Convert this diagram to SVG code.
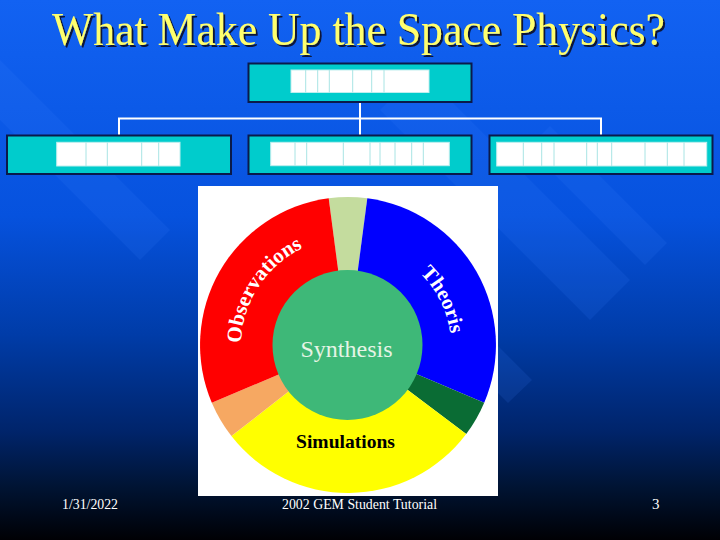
<svg xmlns="http://www.w3.org/2000/svg" width="720" height="540" viewBox="0 0 720 540">
  <defs>
    <linearGradient id="bg" x1="0" y1="0" x2="0" y2="1">
      <stop offset="0" stop-color="#1262f2"/>
      <stop offset="0.4" stop-color="#0652de"/>
      <stop offset="0.62" stop-color="#003ca8"/>
      <stop offset="0.8" stop-color="#00246a"/>
      <stop offset="0.9" stop-color="#001434"/>
      <stop offset="1" stop-color="#000004"/>
    </linearGradient>
    <filter id="shadow" x="-10%" y="-50%" width="120%" height="200%">
      <feDropShadow dx="2" dy="2" stdDeviation="0.4" flood-color="#101838" flood-opacity="1"/>
    </filter>
    <path id="arcObs" d="M241.8,358 A108,108 0 0 1 316.7,242.7"/>
    <path id="arcThe" d="M388,252 A104,104 0 0 1 448.5,371.9"/>
  </defs>
  <style>
    text { font-family: "Liberation Serif", "Times New Roman", "DejaVu Serif", serif; }
    .ttl { font-size: 46px; fill: #ffff6e; }
    .syn { font-size: 24px; fill: #e6f4e6; }
    .sim { font-size: 19px; font-weight: bold; fill: #000000; }
    .box { fill: #00cccc; stroke: #0a1a4a; stroke-width: 2; }
    .cell { fill: #ffffff; stroke: #bfeeee; stroke-width: 1; }
    .div { stroke: #a8e4e4; stroke-width: 1; }
    .conn { stroke: #ffffff; stroke-width: 2; fill: none; }
    .band { fill: #3a86ff; opacity: 0.13; }
    .foot { font-size: 15px; fill: #ffffff; }
    .arcLabel { font-size: 21px; font-weight: bold; fill: #ffffff; }
  </style>

  <rect x="0" y="0" width="720" height="540" fill="url(#bg)"/>
  <!-- diagonal background bands -->
  <polygon class="band" points="420,70 630,280 590,320 380,110"/>
  <polygon class="band" points="550,126 667,243 645,265 528,148"/>
  <polygon class="band" points="460,308 532,380 508,403 440,335"/>
  <polygon class="band" points="0,60 170,230 140,260 0,120"/>

  <!-- title -->
  <g id="title">
    <text class="ttl" x="52" y="45" textLength="613" lengthAdjust="spacingAndGlyphs" filter="url(#shadow)">What Make Up the Space Physics?</text>
  </g>

  <!-- connectors -->
  <g id="connectors">
    <path class="conn" d="M360,103 V135 M119,135 V118.5 H601 V135"/>
  </g>

  <g id="node-top">
    <rect class="box" x="248.5" y="63.5" width="223" height="38.5"/>
    <rect class="cell" x="291" y="70" width="138" height="22.5"/>
    <path class="div" d="M305.7,70 V92.5 M317.7,70 V92.5 M329.3,70 V92.5 M352.7,70 V92.5 M371.7,70 V92.5 M384,70 V92.5"/>
  </g>

  <g id="node-left">
    <rect class="box" x="7" y="135.5" width="224" height="38.5"/>
    <rect class="cell" x="56.7" y="142.3" width="123.3" height="23.7"/>
    <path class="div" d="M86,142.3 V166 M107.3,142.3 V166 M141.7,142.3 V166 M158.7,142.3 V166"/>
  </g>

  <g id="node-middle">
    <rect class="box" x="248.5" y="135.5" width="223" height="38.5"/>
    <rect class="cell" x="270.7" y="142.3" width="178.6" height="23.4"/>
    <path class="div" d="M295,142.3 V165.7 M306.7,142.3 V165.7 M343.3,142.3 V165.7 M370,142.3 V165.7 M380,142.3 V165.7 M395,142.3 V165.7 M411.7,142.3 V165.7 M423.3,142.3 V165.7"/>
  </g>

  <g id="node-right">
    <rect class="box" x="489.5" y="135.5" width="223" height="38.5"/>
    <rect class="cell" x="496.7" y="142.3" width="210" height="23.7"/>
    <path class="div" d="M523.3,142.3 V166 M541.7,142.3 V166 M554,142.3 V166 M586.7,142.3 V166 M597.3,142.3 V166 M611.7,142.3 V166 M645,142.3 V166 M667.3,142.3 V166 M684,142.3 V166"/>
  </g>

  <!-- pie chart picture -->
  <g id="chart">
    <rect x="198" y="186" width="300" height="310" fill="#ffffff"/>
    <path d="M348,345 L328.7,198.3 A148,148 0 0 1 367.3,198.3 Z" fill="#c4dc9e"/>
    <path d="M348,345 L367.3,198.3 A148,148 0 0 1 484.2,402.8 Z" fill="#0000ff"/>
    <path d="M348,345 L484.2,402.8 A148,148 0 0 1 466.2,434.1 Z" fill="#0a6c34"/>
    <path d="M348,345 L466.2,434.1 A148,148 0 0 1 231.4,436.1 Z" fill="#ffff00"/>
    <path d="M348,345 L231.4,436.1 A148,148 0 0 1 211.8,402.8 Z" fill="#f6a862"/>
    <path d="M348,345 L211.8,402.8 A148,148 0 0 1 328.7,198.3 Z" fill="#ff0000"/>
    <circle cx="347.5" cy="345" r="75" fill="#3eb878"/>
    <text class="arcLabel"><textPath href="#arcObs" startOffset="50%" text-anchor="middle">Observations</textPath></text>
    <text class="arcLabel"><textPath href="#arcThe" startOffset="50%" text-anchor="middle">Theoris</textPath></text>
    <text class="syn" x="346.5" y="357" text-anchor="middle">Synthesis</text>
    <text class="sim" x="345.5" y="448" text-anchor="middle" textLength="99" lengthAdjust="spacingAndGlyphs">Simulations</text>
  </g>

  <!-- footer -->
  <g id="footer">
    <text class="foot" x="62" y="509" textLength="56" lengthAdjust="spacingAndGlyphs">1/31/2022</text>
    <text class="foot" x="282" y="509" textLength="155" lengthAdjust="spacingAndGlyphs">2002 GEM Student Tutorial</text>
    <text class="foot" x="652" y="509">3</text>
  </g>
</svg>
